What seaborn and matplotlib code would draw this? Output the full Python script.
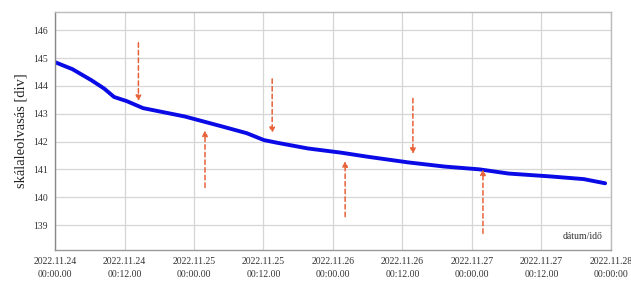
import numpy as np
import pandas as pd
import matplotlib
matplotlib.use("Agg")
import matplotlib.pyplot as plt
import seaborn as sns

# data: hours since 2022.11.24 00:00 and scale readings [div]
hours = [0.0, 3.0, 6.3, 8.5, 10.2, 12.4, 15.2, 18.8, 22.4, 26.0, 28.7, 33.1, 36.1, 38.5,
         43.7, 49.4, 54.1, 61.0, 67.3, 73.3, 78.3, 85.3, 91.3, 95.0]
reading = [144.85, 144.6, 144.2, 143.9, 143.6, 143.45, 143.2, 143.05, 142.9, 142.7, 142.55,
           142.3, 142.05, 141.95, 141.75, 141.6, 141.45, 141.25, 141.1, 141.0,
           140.85, 140.75, 140.65, 140.5]

tick_hours = [0, 12, 24, 36, 48, 60, 72, 84, 96]
tick_labels = ["2022.11.24\n00:00.00", "2022.11.24\n00:12.00", "2022.11.25\n00:00.00",
               "2022.11.25\n00:12.00", "2022.11.26\n00:00.00", "2022.11.26\n00:12.00",
               "2022.11.27\n00:00.00", "2022.11.27\n00:12.00", "2022.11.28\n00:00:00"]
y_ticks = [139, 140, 141, 142, 143, 144, 145, 146]

# arrow annotations: (hour, start value, end value)
arrow_hour = [14.4, 25.9, 37.5, 50.1, 61.8, 73.9]
arrow_start = [145.55, 140.35, 144.25, 139.3, 143.55, 138.7]
arrow_end = [143.45, 142.4, 142.3, 141.3, 141.55, 141.0]

df = pd.DataFrame({"h": hours, "v": reading})

sns.set_theme(style="whitegrid")
plt.rcParams["font.family"] = ["Liberation Serif", "DejaVu Serif"]

fig = plt.figure(figsize=(6.31, 2.81), dpi=100)
ax = fig.add_axes([0.0872, 0.110, 0.881, 0.847])

sns.lineplot(data=df, x="h", y="v", ax=ax, color="#0a0ae6", linewidth=2.8)

for h, s, e in zip(arrow_hour, arrow_start, arrow_end):
    ax.annotate("", xy=(h, e), xytext=(h, s),
                arrowprops=dict(arrowstyle="-|>", color="#e8623a", lw=1.1,
                                linestyle=(0, (3, 2)), mutation_scale=8,
                                shrinkA=0, shrinkB=0))

ax.set_xlim(0, 96)
ax.set_ylim(138.1, 146.65)
ax.set_xticks(tick_hours)
ax.set_xticklabels(tick_labels, fontsize=7, color="#333333", linespacing=1.5)
ax.set_yticks(y_ticks)
ax.set_yticklabels([str(t) for t in y_ticks], fontsize=7, color="#333333")
ax.set_xlabel("")
ax.set_ylabel("skálaleolvasás [div]", fontsize=10.5, color="#222222", labelpad=4)
ax.grid(True, color="#d6d6d6", linewidth=0.9)
for sp in ax.spines.values():
    sp.set_color("#bbbbbb")
    sp.set_linewidth(1.0)
ax.spines["left"].set_color("#888888")
ax.spines["bottom"].set_color("#999999")
ax.tick_params(axis="both", length=2, width=0.8, color="#999999", pad=3)

ax.text(0.985, 0.04, "dátum/idő", transform=ax.transAxes, ha="right", va="bottom",
        fontsize=7, color="#333333",
        bbox=dict(facecolor="white", edgecolor="none", pad=1.5))

fig.savefig("out.png", dpi=100)
